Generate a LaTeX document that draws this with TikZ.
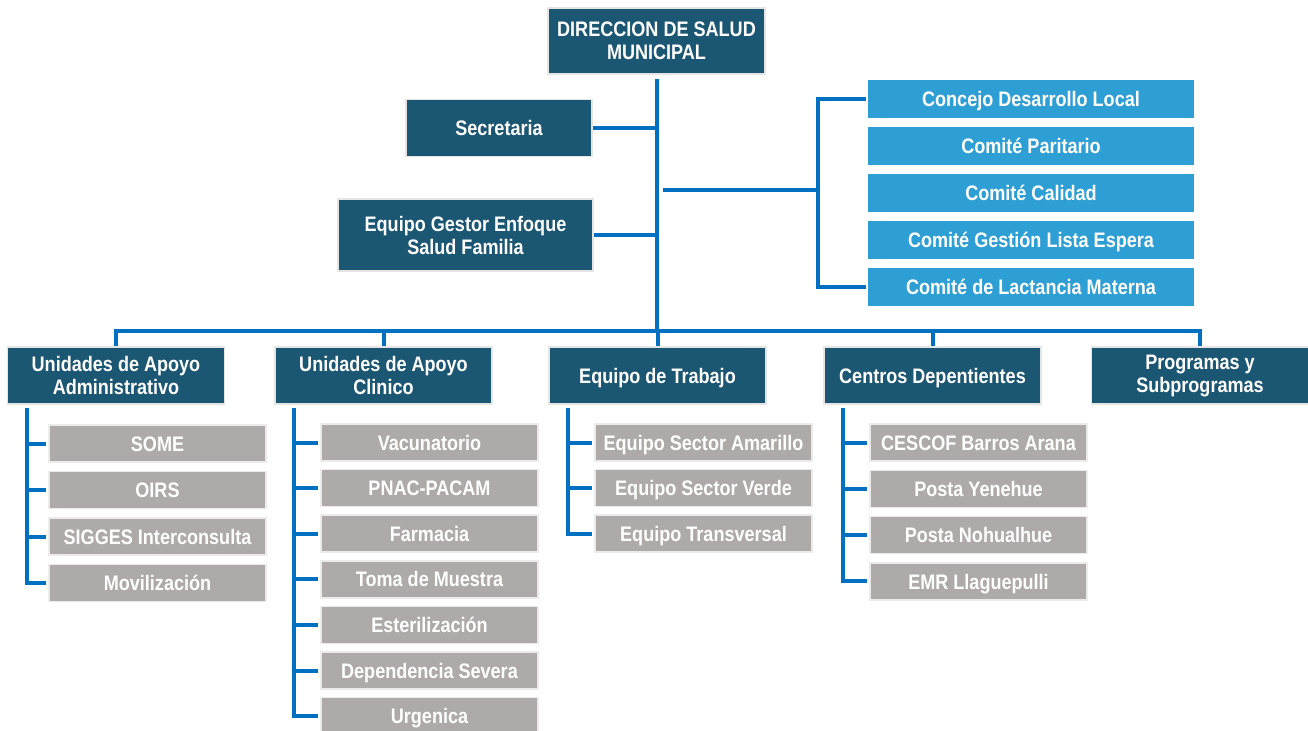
\documentclass[tikz,border=0pt]{standalone}
\usepackage{fontspec}
\setmainfont{Liberation Sans}[FakeStretch=0.86]
\usepackage{tikz}
\definecolor{dirblue}{RGB}{27,86,114}
\definecolor{comblue}{RGB}{46,159,212}
\definecolor{subgrey}{RGB}{173,170,169}
\definecolor{linkblue}{RGB}{0,112,192}
\tikzset{box/.style={
    rectangle, text=white, align=center, inner sep=0pt,
    font=\bfseries\fontsize{10.5}{11.5}\selectfont
  },
  oneline/.style={text height=7.6pt, text depth=0pt},
  dirbox/.style={box, fill=dirblue, draw=black!10, line width=0.8pt,
    minimum width=108.5pt, minimum height=28.5pt},
  comitebox/.style={box, oneline, fill=comblue, minimum width=163pt, minimum height=19pt},
  subbox/.style={box, oneline, fill=subgrey, draw=black!8, line width=0.8pt,
    minimum width=108.5pt, minimum height=18.5pt},
  link/.style={draw=linkblue, line width=2pt}
}

\begin{document}
\begin{tikzpicture}[x=0.5pt,y=-0.5pt]
    \useasboundingbox (0,0) rectangle (1308,730);
    \node[dirbox, minimum height=33pt] (dir) at (656.5,41) {DIRECCION DE SALUD\\MUNICIPAL};
    \node[dirbox, oneline, minimum width=93pt] (secr) at (499,128) {Secretaria};
    \node[dirbox, minimum width=127.5pt, minimum height=36pt] (gestor) at (465.5,235) {Equipo Gestor Enfoque\\Salud Familia};
    \foreach \t [count=\i] in {Concejo Desarrollo Local,Comité Paritario,Comité Calidad,Comité Gestión Lista Espera,Comité de Lactancia Materna}
      \node[comitebox] (com\i) at (1031,{99+47*(\i-1)}) {\t};
    \foreach \n/\x/\t in {uaa/116/Unidades de Apoyo\\Administrativo,uac/383.5/Unidades de Apoyo\\Clinico,pys/1200/Programas y\\Subprogramas}
      \node[dirbox] (\n) at (\x,375.5) {\t};
    \foreach \n/\x/\t in {edt/657.5/Equipo de Trabajo,cd/932.5/Centros Depentientes}
      \node[dirbox, oneline] (\n) at (\x,375.5) {\t};
    \foreach \t [count=\i] in {SOME,OIRS,SIGGES Interconsulta,Movilización}
      \node[subbox] (uaa\i) at (157.5,{443.5+46.5*(\i-1)}) {\t};
    \foreach \t [count=\i] in {Vacunatorio,PNAC-PACAM,Farmacia,Toma de Muestra,Esterilización,Dependencia Severa,Urgenica}
      \node[subbox] (uac\i) at (429.5,{442.5+45.6*(\i-1)}) {\t};
    \foreach \t [count=\i] in {Equipo Sector Amarillo,Equipo Sector Verde,Equipo Transversal}
      \node[subbox] (edt\i) at (703.5,{442.5+45.5*(\i-1)}) {\t};
    \foreach \t [count=\i] in {CESCOF Barros Arana,Posta Yenehue,Posta Nohualhue,EMR Llaguepulli}
      \node[subbox] (cd\i) at (978.5,{442.5+46.3*(\i-1)}) {\t};
    % main line and bus
    \coordinate (bus) at (656,331);
    \coordinate (rb) at (818,190);
    \draw[link] ([yshift=-2pt]dir.south) -- (dir.south |- bus);
    \foreach \n in {uaa,uac,edt,cd,pys}
      \draw[link] (\n.north) |- (bus);
    \draw[link] (secr.east) -- (secr.east -| dir.south);
    \draw[link] (gestor.east) -- (gestor.east -| dir.south);
    \draw[link] ([xshift=3pt]dir.south |- rb) -- (rb);
    \draw[link] ([xshift=-1pt]com1.west) -| (rb) |- ([xshift=-1pt]com5.west);
    % spines under the units
    \foreach \n/\k in {uaa/4,uac/7,edt/3,cd/4} {
      \coordinate (\n sp) at ([xshift=10pt,yshift=-1.5pt]\n.south west);
      \draw[link] (\n sp) |- ([xshift=-1pt]\n\k.west);
      \foreach \i in {1,...,\k}
        \draw[link] ([xshift=-1pt]\n\i.west) -- (\n\i.west -| \n sp);
    }
  \end{tikzpicture}
\end{document}
